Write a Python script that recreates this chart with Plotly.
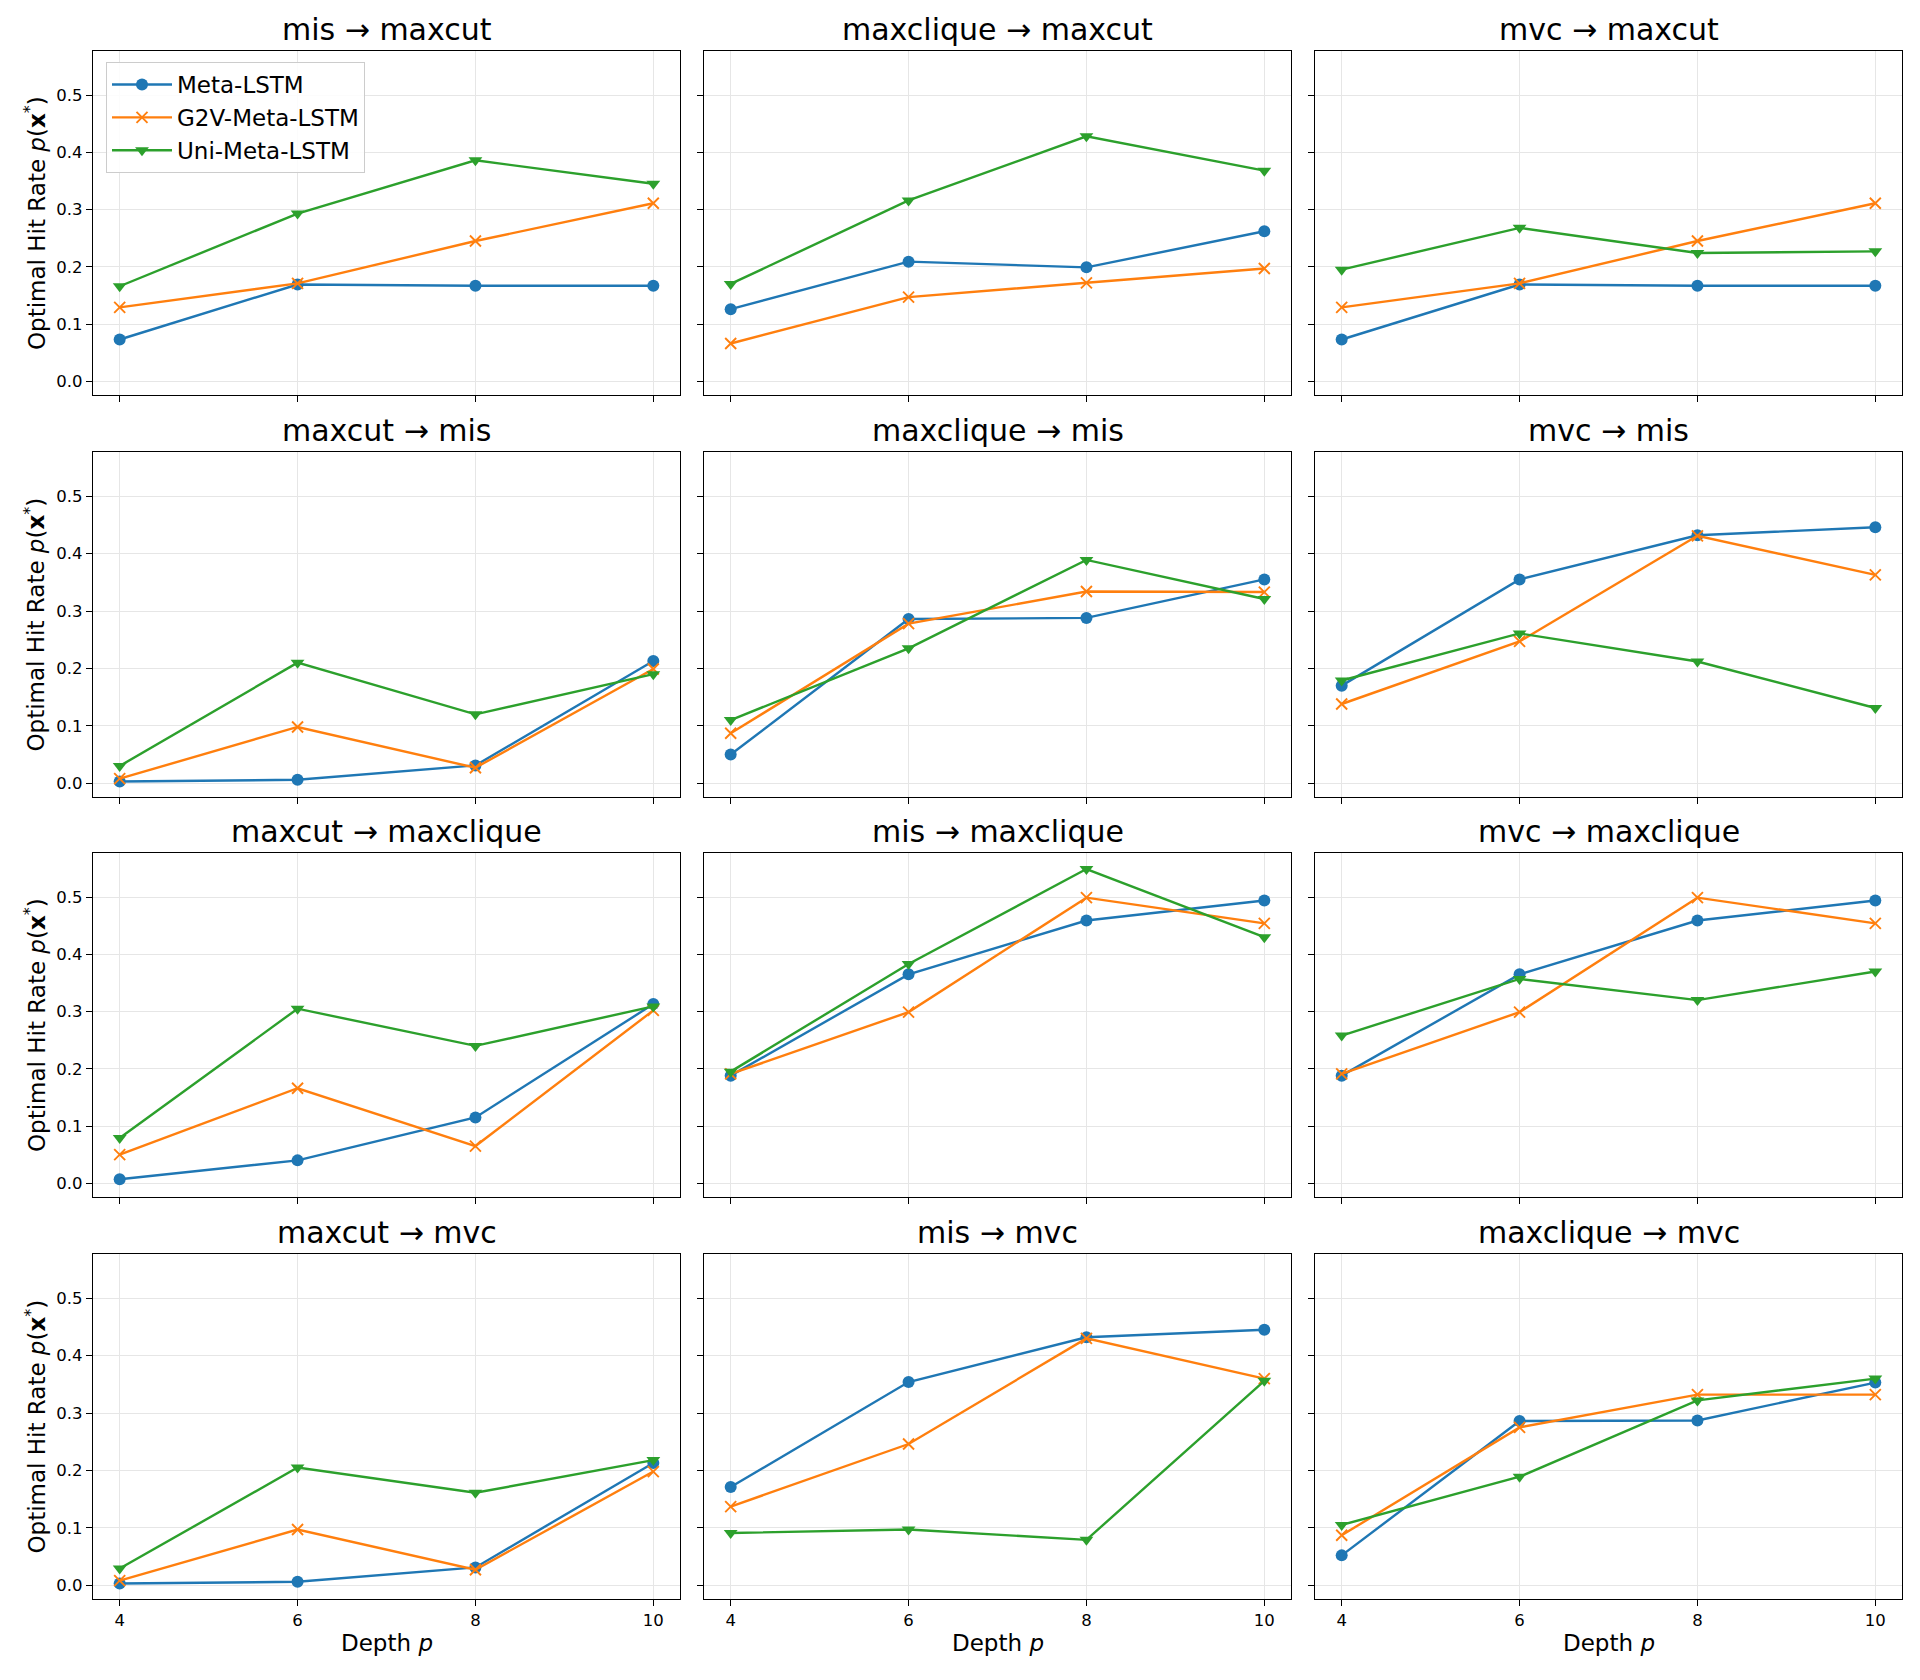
import plotly.graph_objects as go

depths = [4, 6, 8, 10]
titles = [
    "mis → maxcut", "maxclique → maxcut", "mvc → maxcut",
    "maxcut → mis", "maxclique → mis", "mvc → mis",
    "maxcut → maxclique", "mis → maxclique", "mvc → maxclique",
    "maxcut → mvc", "mis → mvc", "maxclique → mvc",
]
series_names = ["Meta-LSTM", "G2V-Meta-LSTM", "Uni-Meta-LSTM"]

meta_lstm = [
    [0.073, 0.169, 0.167, 0.167],
    [0.126, 0.209, 0.199, 0.262],
    [0.073, 0.169, 0.167, 0.167],
    [0.003, 0.006, 0.031, 0.213],
    [0.050, 0.286, 0.288, 0.355],
    [0.170, 0.355, 0.432, 0.446],
    [0.007, 0.040, 0.115, 0.313],
    [0.188, 0.365, 0.459, 0.494],
    [0.188, 0.365, 0.459, 0.494],
    [0.003, 0.006, 0.031, 0.213],
    [0.171, 0.354, 0.432, 0.445],
    [0.052, 0.286, 0.287, 0.353],
]
g2v_meta_lstm = [
    [0.129, 0.171, 0.245, 0.311],
    [0.066, 0.147, 0.172, 0.197],
    [0.129, 0.171, 0.245, 0.311],
    [0.008, 0.098, 0.027, 0.199],
    [0.087, 0.278, 0.334, 0.333],
    [0.138, 0.247, 0.431, 0.363],
    [0.050, 0.166, 0.065, 0.302],
    [0.191, 0.299, 0.499, 0.454],
    [0.191, 0.299, 0.499, 0.454],
    [0.008, 0.097, 0.027, 0.198],
    [0.137, 0.246, 0.430, 0.360],
    [0.087, 0.275, 0.332, 0.332],
]
uni_meta_lstm = [
    [0.166, 0.293, 0.386, 0.345],
    [0.170, 0.316, 0.428, 0.368],
    [0.195, 0.268, 0.224, 0.227],
    [0.030, 0.210, 0.120, 0.190],
    [0.110, 0.235, 0.389, 0.321],
    [0.179, 0.261, 0.212, 0.131],
    [0.079, 0.305, 0.240, 0.309],
    [0.195, 0.383, 0.549, 0.430],
    [0.258, 0.357, 0.320, 0.370],
    [0.029, 0.205, 0.161, 0.218],
    [0.091, 0.097, 0.079, 0.356],
    [0.105, 0.189, 0.322, 0.360],
]
y_ticks = [0.0, 0.1, 0.2, 0.3, 0.4, 0.5]

W, H = 1920, 1680
FONT = "DejaVu Sans"
colors = ["#1f77b4", "#ff7f0e", "#2ca02c"]
col_px = [(93, 680), (704, 1291), (1315, 1902)]
row_px = [(51, 395), (452, 797), (853, 1197), (1254, 1599)]

fig = go.Figure()
layout = dict(
    width=W, height=H, autosize=False,
    margin=dict(l=0, r=0, t=0, b=0),
    paper_bgcolor="white", plot_bgcolor="white",
    font=dict(family=FONT, color="black"),
    showlegend=True,
)
annotations = []

all_series = [meta_lstm, g2v_meta_lstm, uni_meta_lstm]
for i, title in enumerate(titles):
    r, c = divmod(i, 3)
    idx = i + 1
    xa = "x" if idx == 1 else f"x{idx}"
    ya = "y" if idx == 1 else f"y{idx}"
    x0, x1 = col_px[c]
    y0, y1 = row_px[r]
    dom_x = [x0 / W, x1 / W]
    dom_y = [1 - y1 / H, 1 - y0 / H]
    for s, name in enumerate(series_names):
        vals = all_series[s][i]
        if s == 0:
            marker = dict(symbol="circle", size=12, color=colors[s])
        elif s == 1:
            marker = dict(symbol="x-thin", size=11, color=colors[s],
                          line=dict(color=colors[s], width=1.9))
        else:
            marker = dict(symbol="triangle-down", size=12, color=colors[s])
        fig.add_trace(go.Scatter(
            x=depths, y=vals, mode="lines+markers", name=name,
            line=dict(color=colors[s], width=2.4), marker=marker,
            xaxis=xa, yaxis=ya, showlegend=(i == 0),
        ))
    axis_common = dict(
        showline=True, linecolor="black", linewidth=1.2, mirror=True,
        showgrid=True, gridcolor="#e6e6e6", gridwidth=1, zeroline=False,
        ticks="outside", ticklen=6, tickwidth=1.2, tickcolor="black",
        tickfont=dict(family=FONT, size=16.5, color="black"),
    )
    xkey = "xaxis" if idx == 1 else f"xaxis{idx}"
    ykey = "yaxis" if idx == 1 else f"yaxis{idx}"
    layout[xkey] = dict(axis_common, domain=dom_x, anchor=ya, range=[3.7, 10.3],
                        tickmode="array", tickvals=depths,
                        ticktext=[str(d) for d in depths],
                        showticklabels=(r == 3))
    layout[ykey] = dict(axis_common, domain=dom_y, anchor=xa, range=[-0.024, 0.577],
                        tickmode="array", tickvals=y_ticks,
                        ticktext=[f"{v:.1f}" for v in y_ticks],
                        showticklabels=(c == 0))
    annotations.append(dict(
        text=title, xref="paper", yref="paper",
        x=(dom_x[0] + dom_x[1]) / 2, y=dom_y[1], xanchor="center", yanchor="bottom",
        yshift=2, showarrow=False, font=dict(family=FONT, size=30, color="black"),
    ))
    if c == 0:
        annotations.append(dict(
            text="Optimal Hit Rate <i>p</i>(<b>x</b><sup>*</sup>)",
            xref="paper", yref="paper", x=35 / W, y=(dom_y[0] + dom_y[1]) / 2,
            xanchor="center", yanchor="middle", textangle=-90, showarrow=False,
            font=dict(family=FONT, size=23, color="black"),
        ))
    if r == 3:
        annotations.append(dict(
            text="Depth <i>p</i>", xref="paper", yref="paper",
            x=(dom_x[0] + dom_x[1]) / 2, y=1 - 1643 / H,
            xanchor="center", yanchor="middle", showarrow=False,
            font=dict(family=FONT, size=23, color="black"),
        ))

layout["annotations"] = annotations
layout["legend"] = dict(
    x=106 / W, y=1 - 62 / H, xanchor="left", yanchor="top",
    bgcolor="rgba(255,255,255,0.85)", bordercolor="#cccccc", borderwidth=1,
    font=dict(family=FONT, size=23, color="black"),
    itemwidth=60, tracegroupgap=0,
)
fig.update_layout(**layout)
fig.write_html("out.html")
